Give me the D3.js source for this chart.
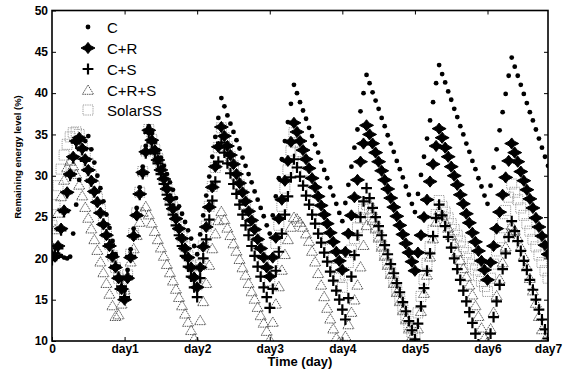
<!DOCTYPE html>
<html>
<head>
<meta charset="utf-8">
<script src="https://cdn.jsdelivr.net/npm/d3@7"></script>
<style>
  body { margin: 0; background: #fff; }
  text { font-family: "Liberation Sans", Arial, sans-serif; }
</style>
</head>
<body>
<div id="chart"></div>
<script>
// hourly samples, hour 0 .. 164
var seriesNames = ["C", "C+R", "C+S", "C+R+S", "SolarSS"];

var valC = [
  20.6, 20.4, 20.2, 20.3, 20.1, 20.0, 20.2, 23.0, 26.5, 29.5, 32.0, 34.2, 34.8,
  33.2, 31.6, 30.0, 28.5, 26.9, 25.3, 23.7, 22.1, 20.5, 19.0, 17.5, 16.1,
  18.6, 21.1, 23.6, 26.1, 28.6, 31.1, 33.6, 36.0,
  35.1, 34.1, 33.1, 32.2, 31.2, 30.2, 29.2, 28.3, 27.3, 26.3, 25.4, 24.4, 23.4, 22.4, 21.5, 20.5,
  22.9, 25.2, 27.6, 29.9, 32.3, 34.7, 37.0, 39.4,
  38.4, 37.3, 36.3, 35.3, 34.3, 33.3, 32.2, 31.2, 30.2, 29.2, 28.1, 27.1, 26.1, 25.1, 24.0, 23.0,
  25.2, 27.5, 29.7, 32.0, 34.2, 36.5, 38.7, 41.0,
  40.0, 38.9, 37.9, 36.9, 35.8, 34.8, 33.8, 32.8, 31.7, 30.7, 29.7, 28.6, 27.6, 26.6, 25.5, 24.5,
  26.7, 28.9, 31.1, 33.4, 35.6, 37.8, 40.0, 42.2,
  41.2, 40.1, 39.1, 38.1, 37.0, 36.0, 34.9, 33.9, 32.9, 31.8, 30.8, 29.8, 28.7, 27.7, 26.6, 25.6,
  27.8, 30.1, 32.3, 34.5, 36.7, 38.9, 41.2, 43.4,
  42.3, 41.3, 40.2, 39.2, 38.1, 37.1, 36.0, 35.0, 33.9, 32.9, 31.8, 30.8, 29.7, 28.7, 27.6, 26.6,
  28.8, 31.0, 33.2, 35.5, 37.7, 39.9, 42.1, 44.3,
  43.2, 42.1, 41.0, 39.9, 38.8, 37.7, 36.7, 35.6, 34.5, 33.4, 32.3, 31.2
];

var valCR = [
  20.3, 20.2, 21.5, 23.6, 25.8, 28.0, 30.2, 32.3, 34.2, 34.6,
  33.3, 32.0, 30.7, 29.4, 28.1, 26.8, 25.5, 24.1, 22.8, 21.5, 20.2, 18.9, 17.6, 16.3, 15.0,
  17.6, 20.1, 22.7, 25.2, 27.8, 30.4, 32.9, 35.5,
  34.3, 33.1, 31.9, 30.7, 29.6, 28.4, 27.2, 26.0, 24.8, 23.6, 22.4, 21.2, 20.1, 18.9, 17.7, 16.5,
  18.9, 21.4, 23.8, 26.2, 28.6, 31.1, 33.5, 35.9,
  34.8, 33.6, 32.5, 31.4, 30.2, 29.1, 28.0, 26.9, 25.7, 24.6, 23.5, 22.3, 21.2, 20.1, 18.9, 17.8,
  20.1, 22.5, 24.8, 27.1, 29.4, 31.8, 34.1, 36.4,
  35.3, 34.2, 33.1, 32.0, 30.9, 29.7, 28.6, 27.5, 26.4, 25.3, 24.2, 23.1, 22.0, 20.8, 19.7, 18.6,
  20.8, 23.0, 25.2, 27.4, 29.5, 31.7, 33.9, 36.1,
  35.0, 33.9, 32.8, 31.7, 30.6, 29.5, 28.4, 27.3, 26.2, 25.1, 24.0, 22.9, 21.8, 20.7, 19.6, 18.5,
  20.7, 22.8, 25.0, 27.1, 29.3, 31.4, 33.6, 35.7,
  34.6, 33.4, 32.3, 31.1, 30.0, 28.9, 27.7, 26.6, 25.4, 24.3, 23.1, 22.0, 20.9, 19.7, 18.6, 17.4,
  19.5, 21.5, 23.6, 25.6, 27.7, 29.8, 31.8, 33.9,
  32.8, 31.7, 30.5, 29.4, 28.3, 27.2, 26.1, 24.9, 23.8, 22.7, 21.6, 20.5
];

var valCS = [
  19.8, 20.6, 21.2, 23.4, 25.6, 27.9, 30.0, 32.1, 34.0, 34.4,
  33.1, 31.8, 30.6, 29.3, 28.0, 26.8, 25.5, 24.2, 22.9, 21.7, 20.4, 19.1, 17.8, 16.6, 15.3,
  17.8, 20.3, 22.8, 25.3, 27.7, 30.2, 32.7, 35.2,
  34.0, 32.7, 31.5, 30.2, 29.0, 27.7, 26.5, 25.3, 24.0, 22.8, 21.5, 20.3, 19.0, 17.8, 16.5, 15.3,
  17.6, 20.0, 22.3, 24.7, 27.0, 29.3, 31.7, 34.0,
  32.8, 31.5, 30.3, 29.0, 27.8, 26.5, 25.3, 24.0, 22.8, 21.5, 20.3, 19.0, 17.8, 16.5, 15.3, 14.0,
  16.3, 18.5, 20.8, 23.0, 25.3, 27.5, 29.8, 32.0,
  31.0, 29.9, 28.8, 27.6, 26.5, 25.3, 24.2, 23.0, 21.9, 20.7, 19.6, 18.4, 17.3, 16.1, 15.0, 13.8, 12.6,
  15.2, 17.8, 20.4, 22.8, 25.0, 26.9, 28.5,
  27.3, 26.1, 25.0, 23.9, 22.8, 21.6, 20.5, 19.3, 18.2, 17.0, 15.9, 14.7, 13.6, 12.4, 11.3, 10.2,
  12.1, 14.2, 16.4, 18.5, 20.6, 22.7, 24.9, 26.5,
  25.2, 23.9, 22.6, 21.3, 20.0, 18.7, 17.4, 16.1, 14.8, 13.5, 12.2, 10.9, 9.6, 9.0, 9.0, 9.0,
  10.9, 12.9, 14.8, 16.8, 18.7, 20.6, 22.6, 24.5,
  23.3, 22.1, 20.9, 19.7, 18.6, 17.4, 16.2, 15.0, 13.8, 12.6, 11.4, 10.3
];

var valCRS = [
  21.5, 23.5, 25.5, 27.5, 29.5, 31.0, 31.8, 31.2, 30.2,
  28.9, 27.6, 26.2, 24.9, 23.6, 22.3, 21.0, 19.6, 18.3, 17.0, 15.7, 14.3, 13.0, 13.2,
  14.5, 16.2, 17.9, 19.6, 21.2, 22.8, 24.4, 25.6, 26.3,
  25.3, 24.3, 23.3, 22.3, 21.3, 20.3, 19.3, 18.3, 17.3, 16.3, 15.3, 14.3, 13.3, 12.3, 11.3, 10.3, 9.8,
  12.5, 14.8, 17.0, 19.2, 21.2, 23.0, 24.6, 25.7,
  24.7, 23.7, 22.8, 21.8, 20.9, 19.9, 18.9, 18.0, 17.0, 16.0, 15.1, 14.1, 13.1, 12.2, 11.2, 10.2,
  12.3, 14.5, 16.6, 18.6, 20.5, 22.3, 23.8, 25.0,
  24.8, 24.4, 23.8, 23.0, 22.1, 20.9, 19.6, 18.2, 16.8, 15.4, 14.0, 12.7, 11.5, 10.4, 9.9, 9.8,
  10.6, 12.0, 13.5, 15.0, 16.8, 19.0, 21.6, 24.0, 25.5,
  24.6, 23.6, 22.5, 21.4, 20.3, 19.2, 18.1, 17.0, 15.9, 14.8, 13.7, 12.6, 11.5, 10.5, 9.9,
  11.5, 13.6, 15.8, 18.0, 20.2, 22.4, 24.4, 25.8,
  25.2, 24.5, 23.7, 22.8, 21.8, 20.8, 19.8, 18.8, 17.8, 16.8, 15.6, 14.3, 13.0, 11.6, 10.4, 9.9,
  11.5, 13.5, 15.5, 17.5, 19.5, 21.4, 23.0, 24.0,
  23.4, 22.5, 21.4, 20.3, 19.0, 17.6, 16.1, 14.6, 13.0, 11.4, 10.2, 9.9
];

var valSolar = [
  24.0, 26.5, 28.8, 30.8, 32.5, 33.8, 34.7, 35.2, 35.3, 35.0, 34.0,
  32.8, 31.5, 30.1, 28.7, 27.3, 25.9, 24.5, 23.1, 21.7, 20.3, 18.9, 17.6, 16.4, 15.6,
  18.0, 20.5, 23.0, 25.5, 28.0, 30.5, 33.0, 35.6,
  34.4, 33.2, 32.1, 30.9, 29.7, 28.5, 27.3, 26.2, 25.0, 23.8, 22.6, 21.4, 20.3, 19.1, 17.9, 16.8,
  19.2, 21.5, 23.9, 26.3, 28.7, 31.0, 33.4, 35.8,
  34.6, 33.5, 32.3, 31.2, 30.0, 28.9, 27.7, 26.6, 25.4, 24.2, 23.1, 21.9, 20.8, 19.6, 18.5, 17.3,
  19.5, 21.8, 24.0, 26.3, 28.5, 30.7, 33.0, 35.2,
  34.0, 32.9, 31.7, 30.5, 29.4, 28.2, 27.0, 25.8, 24.7, 23.5, 22.3, 21.2, 20.0, 18.8, 17.7, 16.5,
  18.0, 19.5, 21.0, 22.4, 23.7, 24.9, 25.9, 26.5,
  26.0, 24.9, 23.8, 22.7, 21.6, 20.5, 19.4, 18.3, 17.2, 16.1, 15.0, 13.9, 12.8, 11.8, 11.0, 10.6,
  13.4, 15.4, 17.4, 19.4, 21.4, 23.4, 25.3, 27.0,
  26.3, 25.6, 24.9, 24.2, 23.5, 22.8, 22.1, 21.4, 20.7, 20.0, 19.3, 18.6, 17.9, 17.2, 16.6, 16.0,
  17.6, 19.3, 20.9, 22.5, 24.2, 25.8, 27.4, 29.0,
  28.0, 27.1, 26.1, 25.2, 24.2, 23.3, 22.3, 21.4, 20.4, 19.5, 18.5, 17.6
];

var xTickHours = [0, 24, 48, 72, 96, 120, 144, 164];
var xTickLabels = ["0", "day1", "day2", "day3", "day4", "day5", "day6", "day7"];
var yTicks = [10, 15, 20, 25, 30, 35, 40, 45, 50];

var W = 567, H = 374;
var pL = 52, pR = 548, pT = 10.5, pB = 341;

var svg = d3.select("#chart").append("svg")
    .attr("width", W)
    .attr("height", H);

var x = d3.scaleLinear().domain([0, 164]).range([pL, pR]);
var y = d3.scaleLinear().domain([10, 50]).range([pB, pT]);

svg.append("clipPath").attr("id", "plotclip")
    .append("rect")
    .attr("x", pL).attr("y", pT)
    .attr("width", pR - pL).attr("height", pB - pT);

// marker shapes (scanned figure: big, heavy markers)
var shapes = {
    "C+R": { d: "M0,-5.6L2.6,-2.3L7,0L2.6,2.3L0,5.6L-2.6,2.3L-7,0L-2.6,-2.3Z", fill: "#000", stroke: "#000", sw: 1 },
    "C+S": { d: "M-5.4,0H5.4M0,-5.4V5.4", fill: "none", stroke: "#000", sw: 2.2 },
    "C+R+S": { d: "M0,-5L5.6,4.3L-5.6,4.3Z", fill: "none", stroke: "#555", sw: 1, dash: "1.5,0.8" },
    "SolarSS": { d: "M-5,-5H5V5H-5Z", fill: "none", stroke: "#999", sw: 1, dash: "1.2,1" }
};

function drawMarker(g, name) {
    var s = shapes[name];
    if (name === "C") {
        g.append("circle").attr("r", 2.4).attr("fill", "#000");
    } else {
        g.append("path")
            .attr("d", s.d)
            .attr("fill", s.fill)
            .attr("stroke", s.stroke)
            .attr("stroke-width", s.sw)
            .attr("stroke-dasharray", s.dash || null);
    }
}

var plot = svg.append("g").attr("clip-path", "url(#plotclip)");

// drawing order: lightest first, dots last
var layers = [
    ["SolarSS", valSolar],
    ["C+R+S", valCRS],
    ["C+S", valCS],
    ["C+R", valCR],
    ["C", valC]
];

layers.forEach(function (l) {
    plot.append("g").selectAll("g")
        .data(l[1])
        .enter().append("g")
        .attr("transform", function (d, i) { return "translate(" + x(i) + "," + y(d) + ")"; })
        .each(function () { drawMarker(d3.select(this), l[0]); });
});

// axes, ticks pointing inward
var fmt = function (d, i) { return xTickLabels[i]; };

svg.append("g")
    .attr("transform", "translate(0," + pB + ")")
    .call(d3.axisBottom(x).tickValues(xTickHours).tickFormat(fmt)
        .tickSizeInner(-4).tickSizeOuter(0).tickPadding(3));
svg.append("g")
    .attr("transform", "translate(0," + pT + ")")
    .call(d3.axisTop(x).tickValues(xTickHours.slice(1, 7)).tickFormat("")
        .tickSizeInner(-4).tickSizeOuter(0));

svg.append("g")
    .attr("transform", "translate(" + pL + ",0)")
    .call(d3.axisLeft(y).tickValues(yTicks)
        .tickSizeInner(-4).tickSizeOuter(0).tickPadding(4));
svg.append("g")
    .attr("transform", "translate(" + pR + ",0)")
    .call(d3.axisRight(y).tickValues(yTicks.slice(1, 8)).tickFormat("")
        .tickSizeInner(-4).tickSizeOuter(0));

svg.selectAll(".domain").remove();
svg.selectAll(".tick line").attr("stroke", "#000").attr("stroke-width", 1);
svg.selectAll(".tick text")
    .attr("fill", "#000")
    .style("font-family", "'Liberation Sans', Arial, sans-serif")
    .style("font-size", "12px")
    .style("font-weight", "bold");

svg.append("rect")
    .attr("x", pL).attr("y", pT)
    .attr("width", pR - pL).attr("height", pB - pT)
    .attr("fill", "none")
    .attr("stroke", "#000")
    .attr("stroke-width", 1.6);

// axis titles
svg.append("text")
    .attr("x", (pL + pR) / 2)
    .attr("y", 366)
    .attr("text-anchor", "middle")
    .style("font-size", "13px")
    .style("font-weight", "bold")
    .text("Time (day)");

svg.append("text")
    .attr("transform", "translate(21,157) rotate(-90)")
    .attr("text-anchor", "middle")
    .style("font-size", "9.5px")
    .style("font-weight", "bold")
    .text("Remaining energy level (%)");

// legend (no box)
var legendY = [27, 48, 69, 90, 110];
var legend = svg.append("g");
seriesNames.forEach(function (name, i) {
    var m = legend.append("g").attr("transform", "translate(88," + legendY[i] + ")");
    drawMarker(m, name);
    legend.append("text")
        .attr("x", 107)
        .attr("y", legendY[i] + 5.5)
        .style("font-size", "15px")
        .text(name);
});
</script>
</body>
</html>
